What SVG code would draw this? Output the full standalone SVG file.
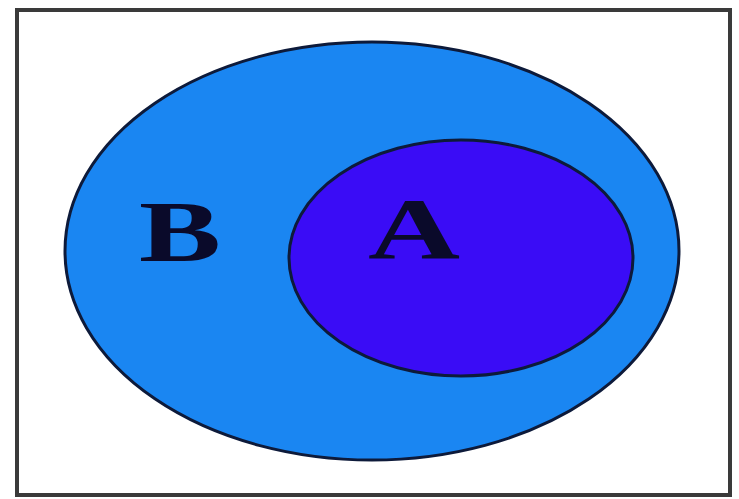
<svg xmlns="http://www.w3.org/2000/svg" width="739" height="499" viewBox="0 0 739 499">
<style>
.lbl{font-family:"Liberation Serif","Times New Roman",serif;font-weight:bold;font-size:86px;fill:#0a0a2a}
.set{stroke:#0d1a3a;stroke-width:3}
</style>
<rect x="0" y="0" width="739" height="499" fill="#ffffff"/>
<rect x="17" y="10" width="713" height="485" fill="#ffffff" stroke="#3a3a3a" stroke-width="4"/>
<g id="B">
<ellipse class="set" cx="372" cy="251" rx="307" ry="209" fill="#1a86f2"/>
<text class="lbl" x="139" y="261" textLength="82" lengthAdjust="spacingAndGlyphs">B</text>
</g>
<g id="A">
<ellipse class="set" cx="461" cy="258" rx="172" ry="118" fill="#3a0cf6"/>
<text class="lbl" x="368" y="258" textLength="92" lengthAdjust="spacingAndGlyphs">A</text>
</g>
</svg>
